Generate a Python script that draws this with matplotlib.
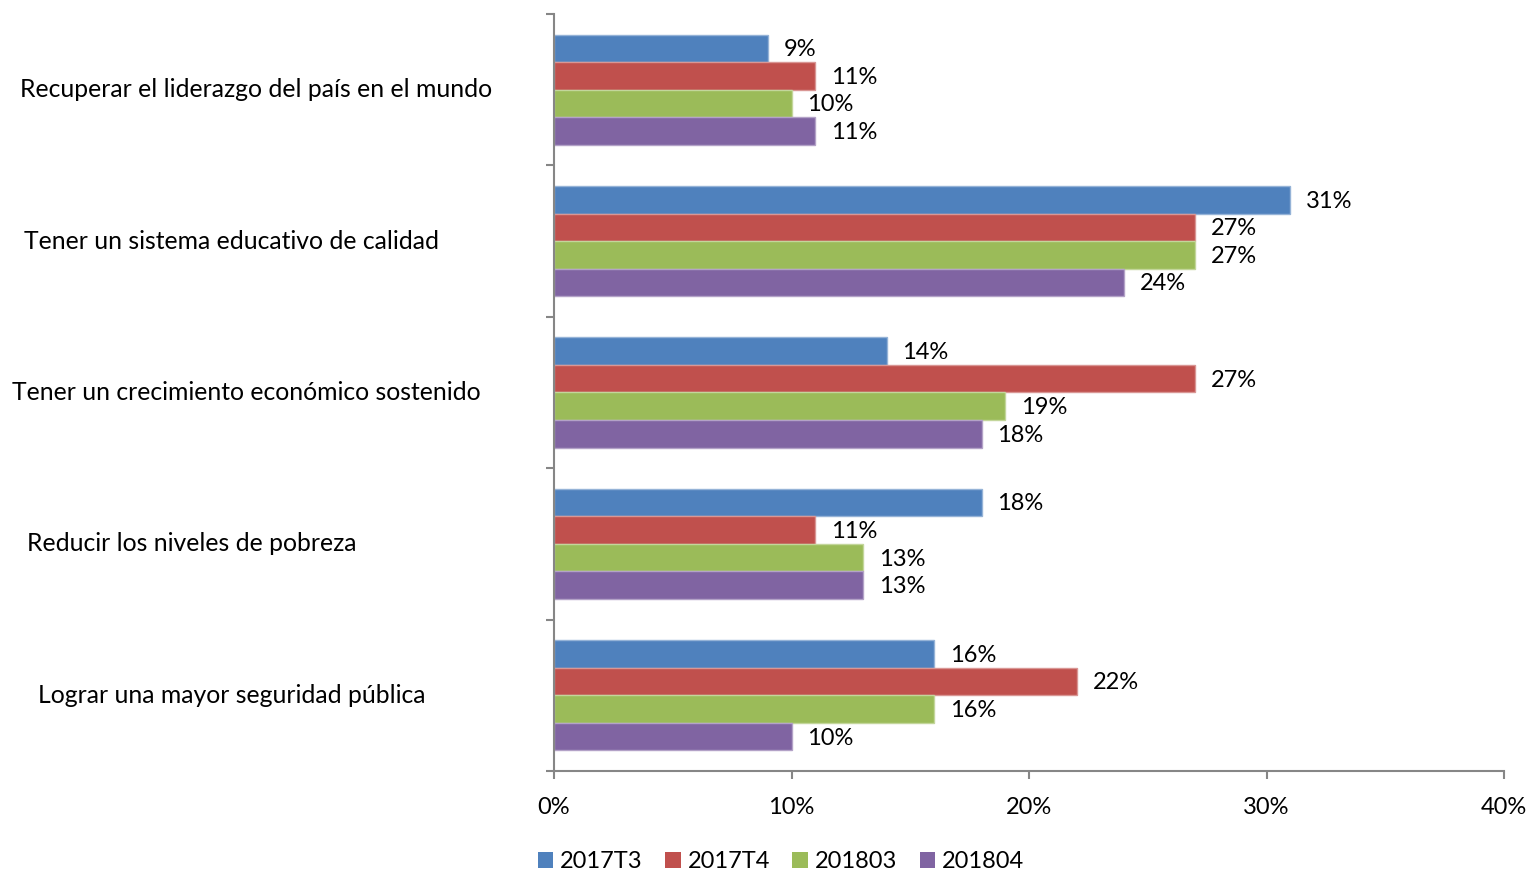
import numpy as np
from matplotlib import pyplot as plt
from matplotlib import transforms
from matplotlib.patches import Patch

plt.rcParams['font.family'] = ['Lato', 'DejaVu Sans']

categorias = ['Recuperar el liderazgo del país en el mundo',
              'Tener un sistema educativo de calidad',
              'Tener un crecimiento económico sostenido',
              'Reducir los niveles de pobreza',
              'Lograr una mayor seguridad pública']
series = ['2017T3', '2017T4', '201803', '201804']
v_2017T3 = [9, 31, 14, 18, 16]
v_2017T4 = [11, 27, 27, 11, 22]
v_201803 = [10, 27, 19, 13, 16]
v_201804 = [11, 24, 18, 13, 10]
colores = ['#4F81BD', '#C0504D', '#9BBB59', '#8064A2']
bordes = ['#95B3D7', '#D99694', '#C3D69B', '#B3A2C7']
# borde izquierdo de cada etiqueta (px)
etiqueta_x = [20, 24, 12, 27, 38]

valores = [v_2017T3, v_2017T4, v_201803, v_201804]

fig = plt.figure(figsize=(15.33, 8.73), dpi=100)
ax = fig.add_axes([554 / 1533, 1 - 771 / 873, 950 / 1533, 757 / 873])

h = 0.182
y = np.arange(len(categorias))
for j, (vals, c, e) in enumerate(zip(valores, colores, bordes)):
    pos = y + (j - 1.5) * h
    ax.barh(pos, vals, height=h, color=c, edgecolor=e, linewidth=1)
    for p, v in zip(pos, vals):
        ax.annotate('%d%%' % v, (v, p), xytext=(11.5, -1), textcoords='offset points',
                    ha='left', va='center', fontsize=17)

ax.set_xlim(0, 40)
ax.set_ylim(len(categorias) - 0.5, -0.5)
ax.set_xticks(np.arange(0, 41, 10))
ax.set_xticklabels(['%d%%' % t for t in range(0, 41, 10)], fontsize=17)
ax.set_yticks(np.arange(-0.5, len(categorias), 1))
ax.set_yticklabels([])
for s in ['top', 'right']:
    ax.spines[s].set_visible(False)
for s in ['left', 'bottom']:
    ax.spines[s].set_color('#868686')
    ax.spines[s].set_linewidth(1.5)
ax.tick_params(axis='both', color='#868686', width=1.5, length=6)
ax.tick_params(axis='x', pad=13)

trans = transforms.blended_transform_factory(fig.transFigure, ax.transData)
for i, cat in enumerate(categorias):
    ax.text(etiqueta_x[i] / 1533, i, cat, transform=trans, ha='left', va='center', fontsize=17.8)

handles = [Patch(facecolor=c, edgecolor='none') for c in colores]
fig.legend(handles, series, loc='center', bbox_to_anchor=(781 / 1533, 1 - 862 / 873),
           ncol=4, frameon=False, fontsize=17, handlelength=0.65, handleheight=0.65,
           handletextpad=0.3, columnspacing=0.95)

plt.savefig('out.png', dpi=100)
